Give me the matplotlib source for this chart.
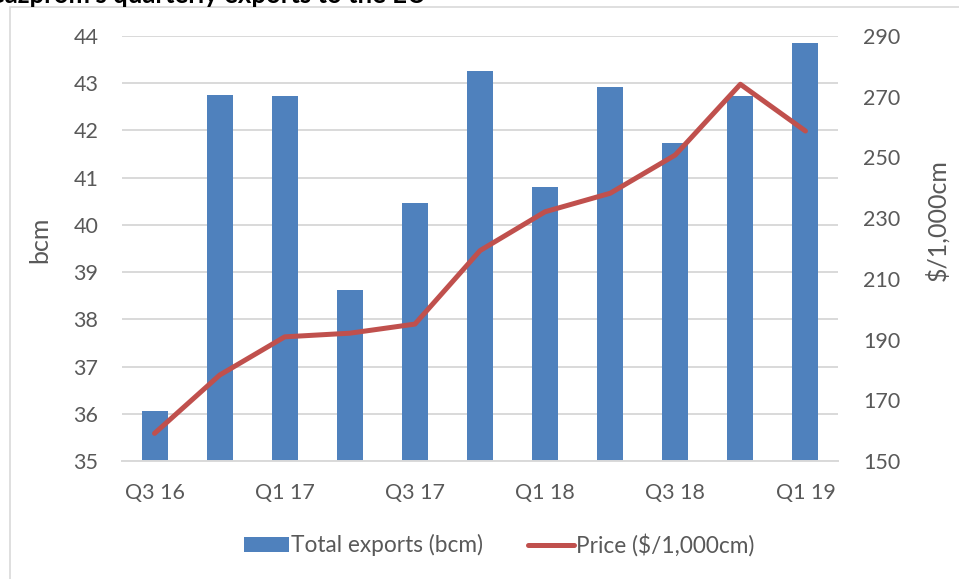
import matplotlib
matplotlib.use("Agg")
import matplotlib.pyplot as plt
from matplotlib.patches import Rectangle
import numpy as np

plt.rcParams['font.family'] = ['Lato', 'DejaVu Sans']

quarters = ["Q3 16", "Q4 16", "Q1 17", "Q2 17", "Q3 17", "Q4 17",
            "Q1 18", "Q2 18", "Q3 18", "Q4 18", "Q1 19"]
exports = [36.05, 42.75, 42.73, 38.62, 40.46, 43.26, 40.81, 42.92, 41.73, 42.72, 43.86]
price = [159.1, 178.3, 190.9, 192.1, 195.1, 219.3, 232.1, 238.2, 250.8, 274.1, 258.7]
left_ticks = list(range(35, 45))
right_ticks = list(range(150, 291, 20))

W, H = 959, 579
fig = plt.figure(figsize=(W / 100, H / 100), dpi=100)

txt = '#595959'
grid = '#D9D9D9'

# outer frame
fig.patches.append(Rectangle((10 / W, -0.1), 1.2, 1 - 7 / H + 0.1, transform=fig.transFigure,
                             fill=False, edgecolor='#D9D9D9', linewidth=1.2))

fig.text(-14 / W, 1 - 3 / H, "Gazprom's quarterly exports to the EU", fontsize=18.5,
         fontweight='bold', color='black', va='baseline', ha='left')

ax = fig.add_axes([122 / W, (H - 461) / H, (838 - 122) / W, (461 - 36) / H])
x = np.arange(len(quarters))
bars = ax.bar(x, exports, width=0.4, color='#4F81BD', label='Total exports (bcm)', zorder=2)
ax.set_ylim(35, 44)
ax.set_xlim(-0.5, len(quarters) - 0.5)
ax.set_yticks(left_ticks)
ax.grid(axis='y', color=grid, linewidth=1.4, zorder=0)
ax.set_axisbelow(True)
for s in ['top', 'left', 'right']:
    ax.spines[s].set_visible(False)
ax.spines['bottom'].set_color(grid)
ax.spines['bottom'].set_linewidth(1.4)
ax.set_xticks(x)
ax.set_xticklabels([q if i % 2 == 0 else '' for i, q in enumerate(quarters)])
ax.tick_params(axis='both', length=0, labelsize=15.5, colors=txt)
ax.tick_params(axis='x', pad=16)
ax.tick_params(axis='y', pad=17)

ax2 = ax.twinx()
line, = ax2.plot(x, price, color='#C0504D', linewidth=3.6, solid_capstyle='round',
                 label='Price ($/1,000cm)', zorder=3)
ax2.set_ylim(150, 290)
ax2.set_yticks(right_ticks)
for s in ['top', 'left', 'right', 'bottom']:
    ax2.spines[s].set_visible(False)
ax2.tick_params(axis='y', length=0, labelsize=15.5, colors=txt, pad=18)

fig.text(40 / W, 1 - 240 / H, 'bcm', rotation=90, fontsize=18, color=txt,
         ha='center', va='center')
fig.text(937 / W, 1 - 220 / H, '$/1,000cm', rotation=90, fontsize=18, color=txt,
         ha='center', va='center')

fig.legend([bars, line], ['Total exports (bcm)', 'Price ($/1,000cm)'], ncol=2,
           loc='center', bbox_to_anchor=(499 / W, 1 - 545 / H), frameon=False,
           fontsize=16.25, labelcolor=txt, handlelength=2.0, handleheight=0.7,
           handletextpad=0.1, columnspacing=2.0)

fig.savefig('out.png', dpi=100)
